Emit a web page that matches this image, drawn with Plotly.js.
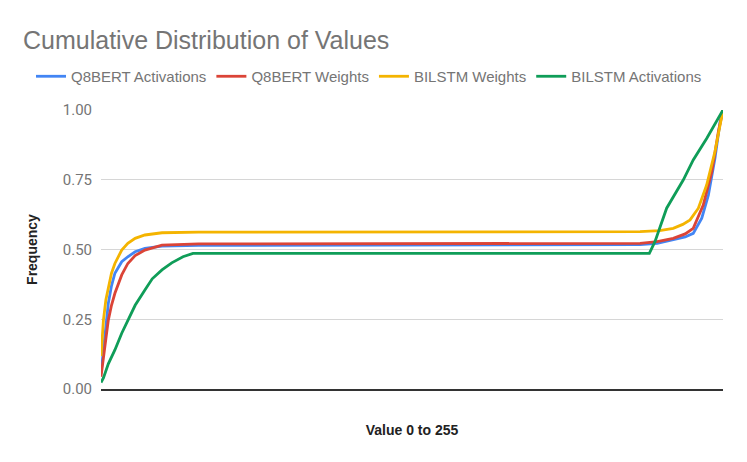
<!DOCTYPE html>
<html>
<head>
<meta charset="utf-8">
<script src="https://cdn.plot.ly/plotly-3.0.1.min.js"></script>
<style>
  html, body { margin: 0; padding: 0; background: #fff; }
  #chart { width: 747px; height: 462px; }
</style>
</head>
<body>
<div id="chart"></div>
<script>
// values (x = value 0..255, y = cumulative frequency)
const q8bertActX = [0, 1, 2, 3, 4.3, 5.7, 8.5, 11, 14, 18, 25, 40, 120, 221, 228, 234.6, 239.5, 242.8, 246.3, 249, 251.7, 253.8, 255];
const q8bertActY = [0.056, 0.14, 0.235, 0.307, 0.37, 0.415, 0.456, 0.474, 0.492, 0.504, 0.512, 0.515, 0.516, 0.518, 0.522, 0.534, 0.545, 0.558, 0.612, 0.695, 0.827, 0.958, 1.0];

const q8bertWtX = [0, 1, 2, 3, 4.3, 5.7, 8.5, 11, 14, 18, 25, 40, 120, 221, 228, 234.6, 239.5, 242.8, 246.9, 250.4, 253.1, 255];
const q8bertWtY = [0.044, 0.104, 0.18, 0.247, 0.3, 0.343, 0.409, 0.45, 0.478, 0.498, 0.516, 0.52, 0.521, 0.522, 0.528, 0.54, 0.556, 0.576, 0.659, 0.778, 0.922, 1.0];

const bilstmWtX = [0, 1, 2, 3, 4.3, 5.7, 8.5, 11, 14, 18, 25, 40, 120, 221, 229, 234.6, 238.5, 241.5, 244.9, 248.3, 251.7, 253.8, 255];
const bilstmWtY = [0.118, 0.247, 0.32, 0.367, 0.415, 0.45, 0.498, 0.522, 0.54, 0.552, 0.56, 0.562, 0.563, 0.564, 0.568, 0.576, 0.59, 0.606, 0.648, 0.731, 0.851, 0.946, 1.0];

const bilstmActX = [0, 1, 3, 5.7, 8.5, 11, 14, 18, 21, 25, 29, 33.6, 37.7, 120, 224.8, 227.1, 231.9, 238.7, 242.8, 248.3, 255];
const bilstmActY = [0.023, 0.04, 0.09, 0.14, 0.2, 0.247, 0.3, 0.355, 0.395, 0.427, 0.452, 0.474, 0.486, 0.486, 0.486, 0.528, 0.648, 0.749, 0.821, 0.898, 1.0];

const seriesNames = ['Q8BERT Activations', 'Q8BERT Weights', 'BILSTM Weights', 'BILSTM Activations'];
const seriesColors = ['#4285F4', '#DB4437', '#F4B400', '#0F9D58'];
const yTicks = [0, 0.25, 0.5, 0.75, 1];

const xs = [q8bertActX, q8bertWtX, bilstmWtX, bilstmActX];
const ys = [q8bertActY, q8bertWtY, bilstmWtY, bilstmActY];

var data = seriesNames.map(function (name, i) {
  return {
    x: xs[i],
    y: ys[i],
    name: name,
    type: 'scatter',
    mode: 'lines',
    line: { color: seriesColors[i], width: 2.8 }
  };
});

var layout = {
  width: 747,
  height: 462,
  font: { family: 'Arial, "Liberation Sans", sans-serif', color: '#757575', size: 14 },
  title: {
    text: 'Cumulative Distribution of Values',
    font: { size: 25, color: '#757575' },
    x: 23 / 747, xref: 'container', xanchor: 'left',
    y: 1 - 40 / 462, yref: 'container', yanchor: 'middle'
  },
  showlegend: true,
  legend: {
    orientation: 'h',
    x: -0.1125, xref: 'paper', xanchor: 'left',
    y: 1.12, yref: 'paper', yanchor: 'middle',
    font: { size: 15, color: '#757575' },
    traceorder: 'normal',
    itemwidth: 30
  },
  margin: { l: 101, r: 24, t: 110, b: 73 },
  paper_bgcolor: '#fff',
  plot_bgcolor: '#fff',
  xaxis: {
    range: [0, 255],
    showticklabels: false,
    ticks: '',
    showgrid: false,
    zeroline: false,
    showline: true,
    linecolor: '#333',
    linewidth: 1.5,
    automargin: true,
    title: { text: 'Value 0 to 255', font: { size: 14, color: '#222', weight: 'bold' }, standoff: 35 }
  },
  yaxis: {
    range: [0, 1],
    tickvals: yTicks,
    tickformat: '.2f',
    tickfont: { family: 'Roboto, Arial, sans-serif', size: 15, color: '#757575' },
    ticks: '',
    ticklabelstandoff: 8,
    showgrid: true,
    gridcolor: '#d6d6d6',
    gridwidth: 1,
    zeroline: false,
    showline: false,
    automargin: true,
    title: { text: 'Frequency', font: { size: 14, color: '#222', weight: 'bold' }, standoff: 21 }
  }
};

Plotly.newPlot('chart', data, layout, { displayModeBar: false, staticPlot: true });
</script>
</body>
</html>
